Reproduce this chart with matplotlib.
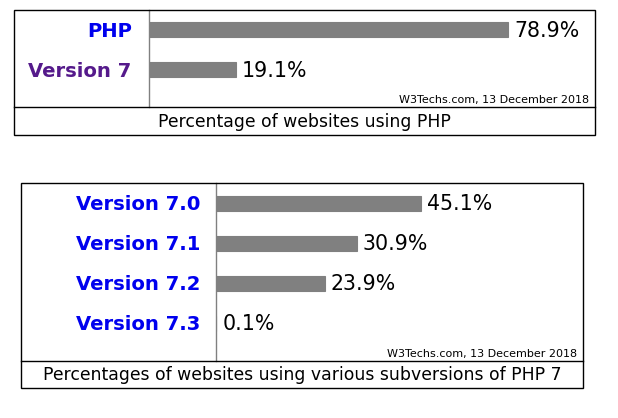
import matplotlib
matplotlib.use("Agg")
import matplotlib.pyplot as plt
from matplotlib.patches import Rectangle
from matplotlib.lines import Line2D

# data
php_labels = ["PHP", "Version 7"]
php_values = [78.9, 19.1]
php_colors = ["#0000EE", "#551A8B"]

sub_labels = ["Version 7.0", "Version 7.1", "Version 7.2", "Version 7.3"]
sub_values = [45.1, 30.9, 23.9, 0.1]
sub_colors = ["#0000EE", "#0000EE", "#0000EE", "#0000EE"]

source = "W3Techs.com, 13 December 2018"
caption_top = "Percentage of websites using PHP"
caption_bottom = "Percentages of websites using various subversions of PHP 7"

W, H = 618, 418
PX_PER_PCT = 4.55
ROW = 40.0

fig = plt.figure(figsize=(W / 100, H / 100), dpi=100)
fig.patch.set_facecolor("white")


def fx(x):
    return x / W


def fy(y):
    return 1 - y / H


def panel(labels, values, colors, box, sep_x, div_y, first_c, label_pad, caption):
    left, top, right, bottom = box
    # outer frame and caption divider
    fig.add_artist(Rectangle((fx(left), fy(bottom)), fx(right - left), (bottom - top) / H,
                             transform=fig.transFigure, fill=False, edgecolor="black", lw=1))
    fig.add_artist(Line2D([fx(left), fx(right)], [fy(div_y), fy(div_y)],
                          transform=fig.transFigure, color="black", lw=1))
    fig.text(fx((left + right) / 2), fy((div_y + bottom) / 2 + 1), caption,
             ha="center", va="center", fontsize=12.4, color="black")

    ax_h = div_y - top
    ax = fig.add_axes([fx(sep_x), fy(div_y), fx(right - sep_x), ax_h / H])
    ax.set_facecolor("none")
    ypos = list(range(len(values)))
    ax.barh(ypos, values, height=15 / ROW, color="#808080",
            edgecolor="#808080", linewidth=0.8, left=0)
    ax.set_xlim(0, (right - sep_x) / PX_PER_PCT)
    ax.set_ylim((ax_h - first_c) / ROW, -first_c / ROW)
    for y, v in zip(ypos, values):
        ax.text(v + 6 / PX_PER_PCT, y + 0.03, f"{v}%", va="center", ha="left",
                fontsize=14.8, color="black")
    ax.set_yticks(ypos)
    ax.set_yticklabels(labels, fontsize=14.1, fontweight="bold")
    for t, c in zip(ax.get_yticklabels(), colors):
        t.set_color(c)
    ax.tick_params(axis="y", length=0, pad=label_pad)
    ax.set_xticks([])
    for s in ["top", "right", "bottom"]:
        ax.spines[s].set_visible(False)
    ax.spines["left"].set_color("#808080")
    ax.spines["left"].set_linewidth(1)
    ax.text(1 - 6 / (right - sep_x), 2 / ax_h, source, transform=ax.transAxes,
            ha="right", va="bottom", fontsize=8, color="black")


panel(php_labels, php_values, php_colors, (14, 9.5, 595, 135), 149, 107, 20, 12.5,
      caption_top)
panel(sub_labels, sub_values, sub_colors, (21, 182.5, 583, 388), 216, 361, 20.5, 11,
      caption_bottom)

fig.savefig("out.png", dpi=100)
